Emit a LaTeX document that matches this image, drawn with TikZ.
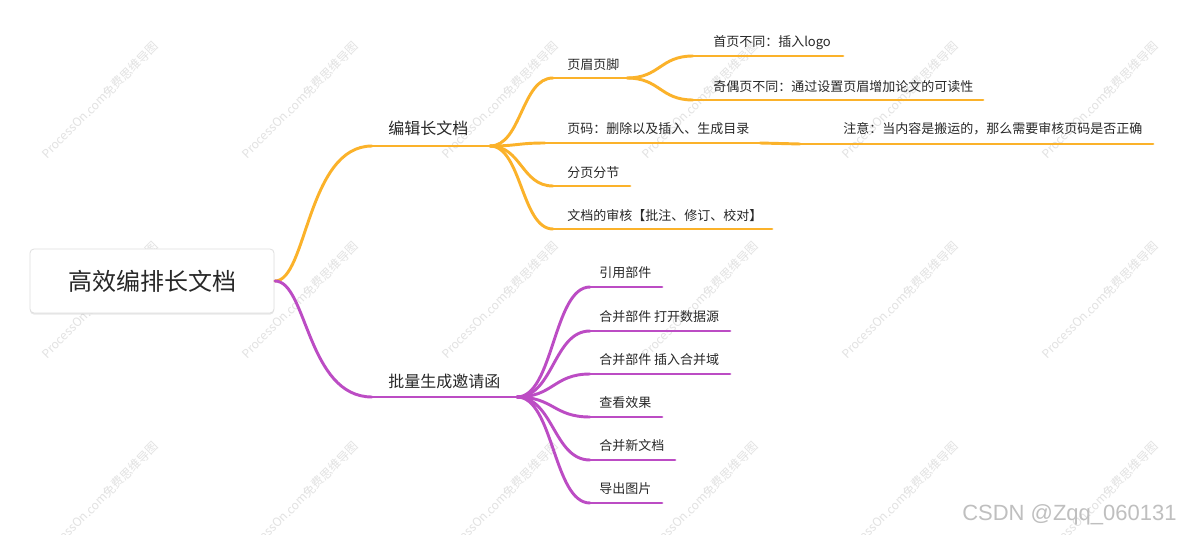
\documentclass[tikz,border=0pt]{standalone}
\usepackage{fontspec}
\setmainfont{Noto Sans CJK SC}
\newfontfamily\csdnfont{Liberation Sans}
\usetikzlibrary{calc,shadows}
\definecolor{orangeC}{RGB}{251,178,42}
\definecolor{purpleC}{RGB}{188,76,196}
\definecolor{txt}{RGB}{40,40,40}
\definecolor{wmC}{RGB}{226,226,226}
\newcommand\sconn[4][0.5]{%
  \path ($(#3)!#1!(#4)$) coordinate (tmpm);
  \draw[#2] (#3) .. controls (tmpm |- #3) and (tmpm |- #4) .. (#4);}
\tikzset{
  obr/.style={draw=orangeC, line width=2.2pt, line cap=round},
  pbr/.style={draw=purpleC, line width=2.2pt, line cap=round},
  lbl/.style={anchor=west, inner sep=0pt, text=txt, font=\fontsize{9.75}{12}\selectfont},
  mlbl/.style={anchor=west, inner sep=0pt, text=txt, font=\fontsize{12}{14}\selectfont},
  rootbox/.style={draw=black!13, fill=white, rounded corners=3pt, line width=0.6pt,
    minimum width=183pt, minimum height=48pt, text=txt, font=\fontsize{18}{20}\selectfont,
    drop shadow={opacity=0.18, shadow xshift=0pt, shadow yshift=-1.2pt}},
  wm/.style={text=wmC, font=\fontsize{9}{10}\selectfont, rotate=45, inner sep=0pt}
}
\begin{document}
\begin{tikzpicture}[x=0.75pt, y=-0.75pt]
\fill[white] (0,0) rectangle (1181,535);
\useasboundingbox (0,0) rectangle (1181,535);
% watermarks
\begin{scope}
\clip (0,0) rectangle (1181,535);
\foreach \i in {0,...,5} {
  \foreach \j in {0,1,2} {
    \node[wm] (wm\i\j) at ({100+200*\i},{100+200*\j}) {ProcessOn.com免费思维导图};
  }
}
\end{scope}
% root
\node[rootbox] (root) at (152,281) {高效编排长文档};
\coordinate (r) at (275,281);
% orange main branch
\coordinate (b1s) at (372,146);
\coordinate (b1e) at (490,146);
\node[mlbl] (b1) at (388,128) {编辑长文档};
\sconn[0.33]{obr}{r}{b1s}
\draw[obr] (b1s) -- (b1e);
% orange children
\coordinate (c1s) at (553,78);  \coordinate (c1e) at (627,78);
\coordinate (c2s) at (545,143); \coordinate (c2e) at (760,143);
\coordinate (c3s) at (553,186); \coordinate (c3e) at (630,186);
\coordinate (c4s) at (553,229); \coordinate (c4e) at (772,229);
\node[lbl] (c1) at (567,65) {页眉页脚};
\node[lbl] (c2) at (567,129) {页码：删除以及插入、生成目录};
\node[lbl] (c3) at (567,173) {分页分节};
\node[lbl] (c4) at (567,216) {文档的审核【批注、修订、校对】};
\foreach \k in {1,2,3,4} {
  \sconn{obr}{b1e}{c\k s}
  \draw[obr] (c\k s) -- (c\k e);
}
% grandchildren
\coordinate (c1as) at (693,56);  \coordinate (c1ae) at (843,56);
\coordinate (c1bs) at (693,100); \coordinate (c1be) at (983,100);
\coordinate (c2as) at (800,144); \coordinate (c2ae) at (1153,144);
\node[lbl] (c1a) at (713,43) {首页不同：插入logo};
\node[lbl] (c1b) at (713,87) {奇偶页不同：通过设置页眉增加论文的可读性};
\node[lbl] (c2a) at (843,129) {注意：当内容是搬运的，那么需要审核页码是否正确};
\sconn{obr}{c1e}{c1as}
\draw[obr] (c1as) -- (c1ae);
\sconn{obr}{c1e}{c1bs}
\draw[obr] (c1bs) -- (c1be);
\sconn{obr}{c2e}{c2as}
\draw[obr] (c2as) -- (c2ae);
% purple main branch
\coordinate (b2s) at (372,397);
\coordinate (b2e) at (517,397);
\node[mlbl] (b2) at (388,381) {批量生成邀请函};
\sconn[0.33]{pbr}{r}{b2s}
\draw[pbr] (b2s) -- (b2e);
% purple children
\coordinate (p1s) at (590,287); \coordinate (p1e) at (662,287);
\coordinate (p2s) at (590,331); \coordinate (p2e) at (730,331);
\coordinate (p3s) at (590,374); \coordinate (p3e) at (730,374);
\coordinate (p4s) at (590,417); \coordinate (p4e) at (662,417);
\coordinate (p5s) at (590,460); \coordinate (p5e) at (675,460);
\coordinate (p6s) at (590,503); \coordinate (p6e) at (662,503);
\node[lbl] (p1) at (599,273) {引用部件};
\node[lbl] (p2) at (599,317) {合并部件 打开数据源};
\node[lbl] (p3) at (599,360) {合并部件 插入合并域};
\node[lbl] (p4) at (599,403) {查看效果};
\node[lbl] (p5) at (599,446) {合并新文档};
\node[lbl] (p6) at (599,489) {导出图片};
\foreach \k in {1,...,6} {
  \sconn{pbr}{b2e}{p\k s}
  \draw[pbr] (p\k s) -- (p\k e);
}
% CSDN mark
\node[anchor=west, inner sep=0pt, text=black!25, font=\csdnfont\fontsize{16.5}{18}\selectfont] (csdn) at (962,515) {CSDN @Zqq\_060131};
\end{tikzpicture}
\end{document}
